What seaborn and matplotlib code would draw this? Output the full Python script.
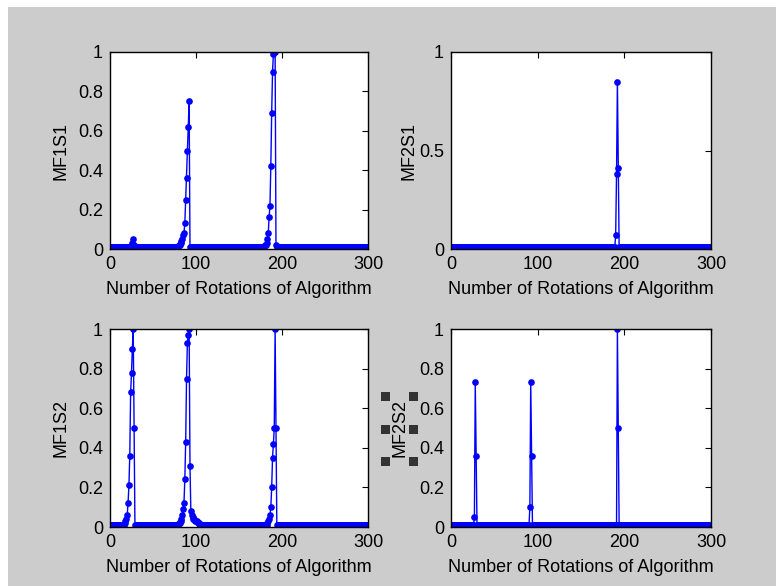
import numpy as np
import pandas as pd
import matplotlib
matplotlib.use("Agg")
import matplotlib.pyplot as plt
import seaborn as sns
from matplotlib.patches import Rectangle

# rotations 1..300, every curve sits just above 0 except around the peaks below
n_rot = 300
rotations = np.arange(1, n_rot + 1)
baseline = 0.008  # the resting points sit a hair above zero

# (first rotation of the run)
mf1s1_runs = [
    (24, [0.01, 0.02, 0.03, 0.05, 0.02, 0.01]),
    (45, [0.01, 0.01, 0.01]),
    (60, [0.01, 0.01, 0.01, 0.01]),
    (78, [0.01, 0.01, 0.02, 0.02, 0.03, 0.04, 0.05, 0.07, 0.08, 0.13,
          0.25, 0.36, 0.50, 0.62, 0.75]),
    (110, [0.01, 0.01, 0.01, 0.01]),
    (125, [0.01, 0.01]),
    (160, [0.01, 0.01, 0.01]),
    (178, [0.01, 0.01, 0.02, 0.02, 0.03, 0.05, 0.08, 0.16, 0.22, 0.42,
           0.69, 0.90, 0.99, 1.00, 1.00, 0.02]),
]
mf2s1_runs = [
    (92, [0.01]),
    (189, [0.01, 0.07, 0.38, 0.85, 0.41]),
]
mf1s2_runs = [
    (15, [0.01, 0.01, 0.02, 0.03, 0.04, 0.06, 0.12, 0.21, 0.36, 0.68,
          0.78, 0.90, 1.00, 0.50, 0.01]),
    (77, [0.01, 0.01, 0.01, 0.02, 0.02, 0.03, 0.04, 0.06, 0.09, 0.12,
          0.24, 0.43, 0.75, 0.93, 0.97, 1.00, 0.31, 0.08, 0.06, 0.05,
          0.04, 0.04, 0.03, 0.03, 0.03, 0.02, 0.02, 0.02, 0.01, 0.01]),
    (181, [0.01, 0.01, 0.02, 0.03, 0.04, 0.06, 0.10, 0.20, 0.35, 0.42,
           0.50, 1.00, 0.50]),
]
mf2s2_runs = [
    (27, [0.05, 0.73, 0.36]),
    (91, [0.10, 0.73, 0.36]),
    (192, [1.00, 0.50]),
]

panels = [
    ("MF1S1", mf1s1_runs, [0, 0.2, 0.4, 0.6, 0.8, 1], ["0", "0.2", "0.4", "0.6", "0.8", "1"]),
    ("MF2S1", mf2s1_runs, [0, 0.5, 1], ["0", "0.5", "1"]),
    ("MF1S2", mf1s2_runs, [0, 0.2, 0.4, 0.6, 0.8, 1], ["0", "0.2", "0.4", "0.6", "0.8", "1"]),
    ("MF2S2", mf2s2_runs, [0, 0.2, 0.4, 0.6, 0.8, 1], ["0", "0.2", "0.4", "0.6", "0.8", "1"]),
]
x_ticks = [0, 100, 200, 300]
x_label = "Number of Rotations of Algorithm"


def build_series(runs):
    y = np.full(n_rot, baseline)
    for start, vals in runs:
        y[start - 1:start - 1 + len(vals)] = vals
    return pd.DataFrame({"rotation": rotations, "value": y})


sns.set_style("white")
plt.rcParams["font.family"] = ["Liberation Sans", "DejaVu Sans"]
plt.rcParams["font.size"] = 13
plt.rcParams["text.color"] = "black"
plt.rcParams["axes.labelcolor"] = "black"

W, H = 776, 586
fig = plt.figure(figsize=(W / 100, H / 100), dpi=100)
fig.patch.set_facecolor("white")
# grey MATLAB figure area (small white strip on left/top)
fig.add_artist(Rectangle((8 / W, 0), 1, 1 - 7 / H, transform=fig.transFigure,
                         facecolor="#cccccc", edgecolor="none", zorder=-10))

# axes boxes in pixels: left, right, top, bottom
boxes = [(110, 368, 52, 249), (451, 711, 52, 249),
         (110, 368, 329, 527), (451, 711, 329, 527)]
label_x = [-0.156, -0.130, -0.156, -0.164]

for (name, runs, yt, ytl), (l, r, t, b), lx in zip(panels, boxes, label_x):
    ax = fig.add_axes([l / W, (H - b) / H, (r - l) / W, (b - t) / H])
    df = build_series(runs)
    sns.lineplot(data=df, x="rotation", y="value", ax=ax, color="#0000ff",
                 linewidth=1, marker="o", markersize=4.8, markeredgewidth=0,
                 markerfacecolor="#0000ff")
    ax.set_xlim(0, 300)
    ax.set_ylim(0, 1)
    ax.set_xticks(x_ticks)
    ax.set_xticklabels([str(v) for v in x_ticks])
    ax.set_yticks(yt)
    ax.set_yticklabels(ytl)
    ax.set_xlabel(x_label, labelpad=6)
    ax.set_ylabel(name)
    ax.yaxis.set_label_coords(lx, 0.5)
    ax.tick_params(direction="in", length=4, width=0.8, top=True, right=True,
                   colors="black", labelcolor="black", labelsize=13, pad=5)
    for sp in ax.spines.values():
        sp.set_color("black")
        sp.set_linewidth(1)
        sp.set_visible(True)
    ax.set_facecolor("white")
    ax.grid(False)

# selection handles around the MF2S2 label
for cx in (385.5, 413.5):
    for cy in (396.5, 429.5, 461):
        fig.add_artist(Rectangle(((cx - 4.5) / W, (H - cy - 4.5) / H), 9 / W, 9 / H,
                                 transform=fig.transFigure, facecolor="#333333",
                                 edgecolor="none", zorder=5))

fig.savefig("out.png", dpi=100, facecolor=fig.get_facecolor())
